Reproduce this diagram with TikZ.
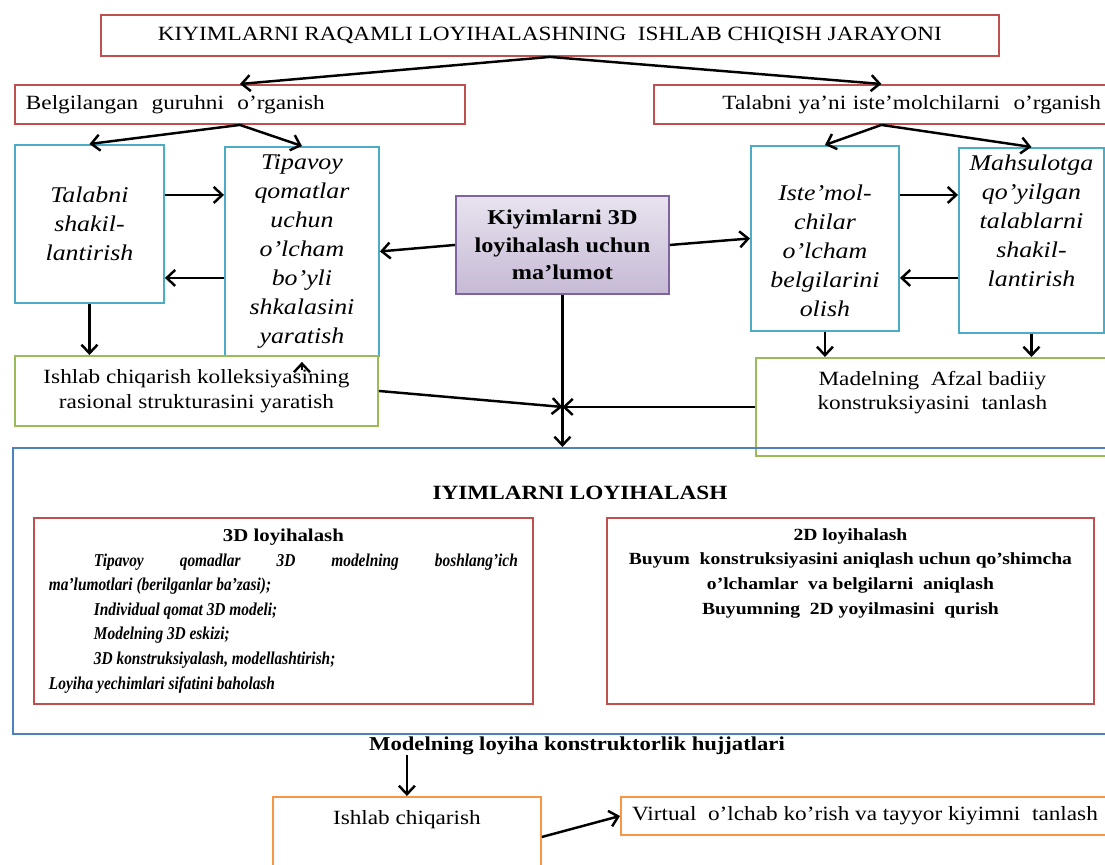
\documentclass[tikz,border=0pt]{standalone}
\usepackage{fontspec}
\setmainfont{Liberation Serif}[FakeStretch=1.15]
\newfontfamily\narrowfont{Liberation Serif}[FakeStretch=0.85]
\usetikzlibrary{positioning,arrows.meta}

\definecolor{boxred}{HTML}{C0504D}
\definecolor{boxaqua}{HTML}{4BACC6}
\definecolor{boxgreen}{HTML}{9BBB59}
\definecolor{boxblue}{HTML}{4F81BD}
\definecolor{boxorange}{HTML}{F79646}
\definecolor{boxpurple}{HTML}{8064A2}

% text held at the top of a box of fixed height
\newcommand{\topbox}[4]{\parbox[c][#1][t]{#2}{\centering\vspace*{#3}#4\par}}

\begin{document}
\begin{tikzpicture}[x=0.02cm, y=-0.02cm,
    every node/.style={inner sep=0pt},
    frame/.style={draw, line width=1.1pt, anchor=north west, align=center,
                  font=\fontsize{11.5}{14}\selectfont},
    redbox/.style={frame, draw=boxred},
    aquabox/.style={frame, draw=boxaqua, font=\fontsize{12.8}{16.5}\selectfont\itshape},
    greenbox/.style={frame, draw=boxgreen},
    bluebox/.style={frame, draw=boxblue},
    orangebox/.style={frame, draw=boxorange},
    infobox/.style={frame, draw=boxpurple, top color=boxpurple!18, bottom color=boxpurple!45,
                    font=\fontsize{12}{15.6}\selectfont\bfseries},
    arr/.style={-{Straight Barb[length=1.7mm,width=3.2mm]}, line width=1.4pt}
  ]
  \useasboundingbox (0,0) rectangle (1105,865);

  % top rows
  \node[redbox, minimum width=17.96cm, minimum height=0.82cm] (title) at (100,14)
    {KIYIMLARNI RAQAMLI LOYIHALASHNING\ \ ISHLAB CHIQISH JARAYONI};
  \node[redbox, minimum width=9cm, minimum height=0.78cm, text width=8.56cm, align=left] (group) at (14,84)
    {Belgilangan\ \ guruhni\ \ o’rganish};
  \node[redbox, minimum width=9.1cm, minimum height=0.78cm, text width=8.78cm, align=right] (demand) at (653,84)
    {Talabni ya’ni iste’molchilarni\ \ o’rganish};

  % left branch
  \node[aquabox, minimum width=2.98cm, minimum height=3.16cm] (shape) at (14,144)
    {Talabni\\shakil-\\lantirish};
  \node[aquabox, minimum width=3.08cm, minimum height=4.18cm] (scale) at (224,146)
    {Tipavoy\\qomatlar\\uchun\\o’lcham\\bo’yli\\shkalasini\\yaratish};
  \node[greenbox, minimum width=7.26cm, minimum height=1.4cm, fill=white] (range) at (14,355)
    {Ishlab chiqarish kolleksiyasining\\rasional strukturasini yaratish};

  % centre
  \node[infobox, minimum width=4.26cm, minimum height=1.96cm] (info) at (455,195)
    {Kiyimlarni 3D\\loyihalash uchun\\ma’lumot};

  % right branch
  \node[aquabox] (measure) at (750,145)
    {\topbox{3.7cm}{2.96cm}{22pt}{Iste’mol-\\chilar\\o’lcham\\belgilarini\\olish}};
  \node[aquabox] (needs) at (958,147)
    {\topbox{3.7cm}{2.9cm}{4pt}{Mahsulotga\\qo’yilgan\\talablarni\\shakil-\\lantirish}};
  \node[greenbox] (choice) at (755,357)
    {\topbox{1.96cm}{7.06cm}{7.5pt}{Madelning\ \ Afzal badiiy\\konstruksiyasini\ \ tanlash}};

  % design block
  \node[bluebox, minimum width=21.92cm, minimum height=5.72cm] (plan) at (12,447) {};
  \node[font=\fontsize{11.5}{13}\selectfont\bfseries] (plantitle) at (580,493) {IYIMLARNI LOYIHALASH};
  \node[redbox, minimum width=9.98cm, minimum height=3.72cm, font=\fontsize{10.3}{14}\selectfont] (plan3d) at (33,517)
    {\parbox{9.38cm}{\setlength{\parindent}{0.9cm}%
      \centerline{\bfseries 3D loyihalash}%
      \narrowfont\bfseries\itshape
      Tipavoy qomadlar 3D modelning boshlang’ich\linebreak ma’lumotlari (berilganlar ba’zasi);\par
      Individual qomat 3D modeli;\par
      Modelning 3D eskizi;\par
      3D konstruksiyalash, modellashtirish;\par
      \noindent Loyiha yechimlari sifatini baholash\par}};
  \node[redbox, font=\fontsize{9.7}{14}\selectfont\bfseries] (plan2d) at (606,517)
    {\topbox{3.72cm}{9.74cm}{6pt}{2D loyihalash\\Buyum\ \ konstruksiyasini aniqlash uchun qo’shimcha\\o’lchamlar\ \ va belgilarni\ \ aniqlash\\Buyumning\ \ 2D yoyilmasini\ \ qurish}};

  % bottom
  \node[font=\fontsize{11.2}{13}\selectfont\bfseries] (docs) at (577,746) {Modelning loyiha konstruktorlik hujjatlari};
  \node[orangebox] (make) at (272,796) {\topbox{1.6cm}{5.36cm}{7.5pt}{Ishlab chiqarish}};
  \node[orangebox, minimum width=9.76cm, minimum height=0.76cm] (virtual) at (620,796)
    {Virtual\ \ o’lchab ko’rish va tayyor kiyimni\ \ tanlash};

  % arrows
  \draw[arr] (title.south) -- (group.north);
  \draw[arr] (title.south) -- (demand.north);
  \draw[arr] (group.south) -- (shape.north);
  \draw[arr] (group.south) -- (scale.north);
  \draw[arr] ([yshift=0.58cm]shape.east) -- ([yshift=0.58cm]shape.east -| scale.west);
  \draw[arr] ([yshift=-1.08cm]shape.east -| scale.west) -- ([yshift=-1.08cm]shape.east);
  \draw[arr] (shape.south) -- (shape.south |- range.north);
  \draw[arr] ([yshift=-0.26cm]scale.south) -- ([yshift=-0.1cm]scale.south);
  \draw[arr] (info.west) -- (scale.east);
  \draw[arr] (info.east) -- (measure.west);
  \draw[arr] (demand.south) -- (measure.north);
  \draw[arr] (demand.south) -- (needs.north);
  \draw[arr] ([yshift=0.87cm]measure.east) -- ([yshift=0.87cm]measure.east -| needs.west);
  \draw[arr] ([yshift=-0.79cm]measure.east -| needs.west) -- ([yshift=-0.79cm]measure.east);
  \draw[arr] (measure.south) -- (measure.south |- choice.north);
  \draw[arr] (needs.south) -- (needs.south |- choice.north);
  \coordinate (join) at (info.south |- choice.west);
  \draw[arr] (info.south) -- (info.south |- plan.north);
  \draw[arr] (range.east) -- (join);
  \draw[arr] (choice.west) -- (join);
  \draw[arr] (docs.south -| make.north) -- (make.north);
  \draw[arr] (make.east) -- (virtual.west);
\end{tikzpicture}
\end{document}
